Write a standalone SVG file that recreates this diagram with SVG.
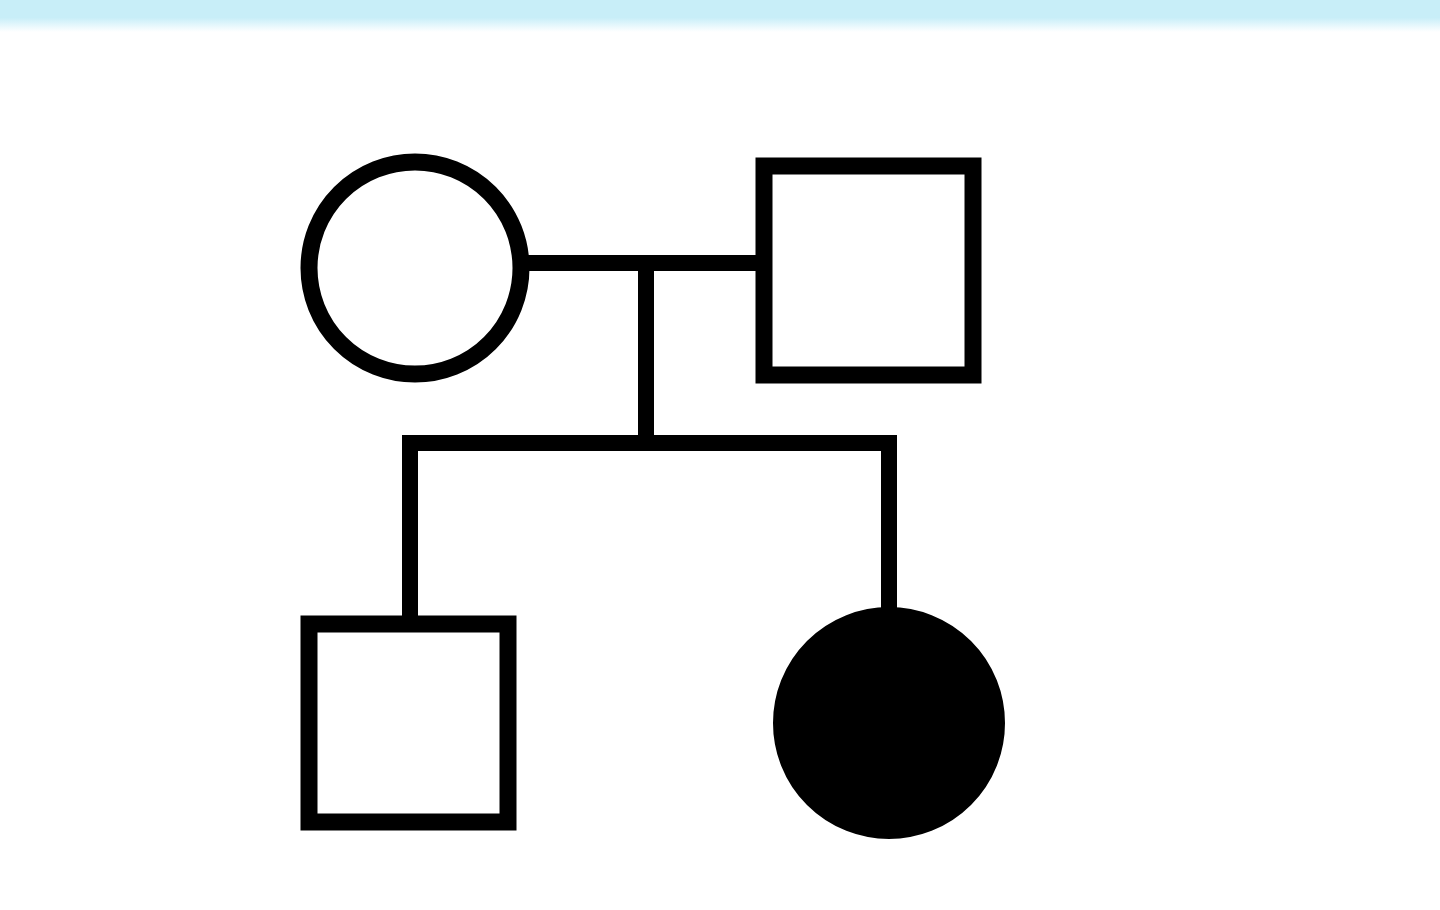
<svg xmlns="http://www.w3.org/2000/svg" width="1440" height="910" viewBox="0 0 1440 910">
<defs>
<linearGradient id="band" x1="0" y1="0" x2="0" y2="1">
<stop offset="0" stop-color="#c8eef8"/>
<stop offset="0.55" stop-color="#c8eef8"/>
<stop offset="1" stop-color="#ffffff"/>
</linearGradient>
<style>
.sym{fill:#fff;stroke:#000;stroke-width:17}
.aff{fill:#000;stroke:#000;stroke-width:2}
.ln{fill:none;stroke:#000;stroke-width:16;stroke-linecap:square}
</style>
</defs>
<rect x="0" y="0" width="1440" height="910" fill="#fff"/>
<rect x="0" y="0" width="1440" height="32" fill="url(#band)"/>
<g id="connectors">
<line class="ln" x1="530" y1="263" x2="756" y2="263"/>
<line class="ln" x1="646" y1="263" x2="646" y2="443"/>
<polyline class="ln" points="410,615 410,443 889,443 889,612"/>
</g>
<g id="mother"><circle class="sym" cx="415" cy="268" r="106"/></g>
<g id="father"><rect class="sym" x="764" y="166" width="209" height="209"/></g>
<g id="son"><rect class="sym" x="309" y="624" width="199" height="198"/></g>
<g id="daughter"><circle class="aff" cx="889" cy="723" r="115"/></g>
</svg>
